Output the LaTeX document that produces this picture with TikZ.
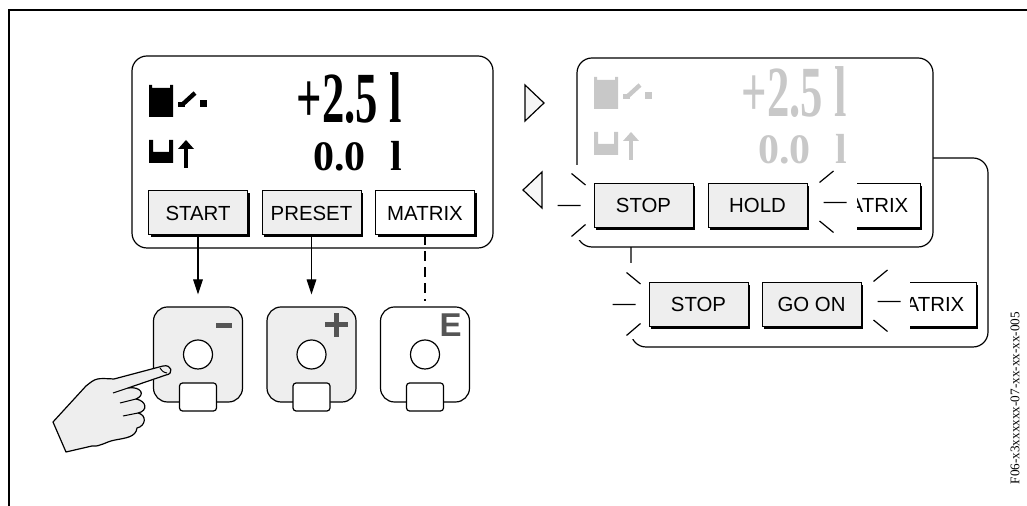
\documentclass[tikz,border=0pt]{standalone}
\usepackage{fontspec}
\setmainfont{Liberation Sans}
\newfontfamily\lcdfont{Liberation Serif}
\usetikzlibrary{positioning,arrows.meta,shadows}

\definecolor{keygray}{HTML}{EEEEEE}
\definecolor{dimgray}{HTML}{C8C8C8}
\definecolor{signgray}{HTML}{555555}

\tikzset{
  display/.style={draw,line width=0.6pt,rounded corners=7.5pt,fill=white,inner sep=0pt},
  softkey/.style={draw,line width=0.5pt,fill=keygray,minimum width=49.5pt,minimum height=22pt,
    inner sep=0pt,font=\fontsize{10.2}{11}\selectfont,
    general shadow={fill=black,shadow xshift=1.1pt,shadow yshift=-1.1pt}},
  opkey/.style={draw,line width=0.6pt,rounded corners=7pt,fill=keygray,
    minimum width=44.5pt,minimum height=47.5pt,inner sep=0pt},
  hole/.style={draw,line width=0.6pt,fill=white,circle,minimum size=14.5pt,inner sep=0pt},
  tab/.style={draw,line width=0.6pt,fill=white,rounded corners=1.5pt,
    minimum width=18.5pt,minimum height=14pt,inner sep=0pt},
  bignum/.style={inner sep=0pt,anchor=base east,font=\lcdfont\bfseries\fontsize{36}{36}\selectfont},
  smallnum/.style={inner sep=0pt,anchor=base east,font=\lcdfont\bfseries\fontsize{21}{21}\selectfont},
  % totalizer symbols, full and empty container
  pics/totalicons/.style={code={
    \fill (0,0) -- (3,0) -- (3,3) -- (21,3) -- (21,0) -- (24,0) -- (24,32) -- (0,32) -- cycle;
    \fill (29,17) rectangle (36,22);
    \draw[line width=2.2pt] (34,19) -- (46,8);
    \fill (51,15) rectangle (58,22);
    \fill (0,55) -- (4,55) -- (4,67) -- (20,67) -- (20,55) -- (24,55) -- (24,78) -- (0,78) -- cycle;
    \fill (35,61) rectangle (39,83);
    \fill (29,64) -- (37,55) -- (45,64) -- cycle;
  }},
  pics/raysleft/.style={code={
    \draw[line width=0.6pt] (-22,-32) -- (-8,-20.5) (-36,0) -- (-13,0) (-22,31) -- (-8,19);
  }},
  pics/raysright/.style={code={
    \draw[line width=0.6pt] (12,-23) -- (26,-34.5) (16,-3) -- (39,-3) (12,15.5) -- (26,27);
  }},
}

\begin{document}
\begin{tikzpicture}[x=0.5pt,y=-0.5pt,on grid,>={Triangle[length=7.5pt,width=4.8pt]}]
\useasboundingbox (0,0) rectangle (1027,506);
\draw[line width=1pt] (8.5,506) -- (8.5,10) -- (1027,10);

%% displays on the right, lower one first
\node[display,minimum width=178.5pt,minimum height=94.5pt] (dispc) at (809.5,252.5) {};
\node[display,minimum width=178pt,minimum height=94.5pt] (dispb) at (755,152.5) {};
\fill[white] (560,165) rectangle (586,240);
\fill[white] (605,263) rectangle (641,339);

%% main display
\node[display,minimum width=180.5pt,minimum height=96pt] (disp) at (312.5,152) {};
\pic[color=black] at (149,85) {totalicons};
\node[bignum] (tot) at (402,123) {\scalebox{0.62}[1]{+2.5 l}};
\node[smallnum] (rest) at (403,171) {0.0\hspace{0.6em}l};

\node[softkey] (start) at (198,213) {START};
\node[softkey,right=56.75pt of start] (preset) {PRESET};
\node[softkey,fill=white,right=56.75pt of preset] (mtx) {MATRIX};

%% operating keys
\node[opkey,below=70.75pt of start] (minus) {};
\node[opkey,below=70.75pt of preset] (plus) {};
\node[opkey,fill=white,below=70.75pt of mtx] (enter) {};
\foreach \k in {minus,plus,enter}{
  \node[hole] (\k hole) at (\k) {};
  \node[tab] (\k tab) at ([yshift=-21.25pt]\k) {};
}
\fill[signgray] (216,323) rectangle (232,328);
\fill[signgray] (325,322.5) rectangle (348,327.5);
\fill[signgray] (334,313) rectangle (339,337);
\node[font=\bfseries\fontsize{16.5}{17}\selectfont,text=signgray,inner sep=0pt] (elabel) at (450.5,325) {E};

\draw[->,line width=0.6pt,shorten >=6pt] (start) -- (minus.north);
\draw[->,line width=0.6pt,shorten >=6pt] (preset) -- (plus.north);
\draw[dashed,line width=0.6pt,dash pattern=on 5pt off 3pt,shorten >=2.5pt] (mtx) -- (enter.north);

% finger on the minus key
\draw[line width=0.6pt,fill=keygray,line join=round]
  (53,422) -- (86,386) .. controls (96,378) .. (114,379) -- (163,366)
  .. controls (172,364) and (174,374) .. (166,375) -- (128,388)
  .. controls (141,386) and (146,395) .. (136,399)
  .. controls (147,401) and (148,411) .. (138,413)
  .. controls (147,415) and (146,426) .. (137,428)
  .. controls (136,437) and (126,438) .. (115,440)
  .. controls (105,442) and (100,447) .. (92,446) -- (66,452) -- cycle;
\draw[line width=0.5pt] (128,388) -- (113,393) (136,399) -- (120,403) (138,413) -- (123,416)
  (160,368) .. controls (163,372) .. (167,373);

%% switching arrows
\draw[line width=0.6pt,fill=keygray!50] (525,85) -- (525,121) -- (544,103) -- cycle;
\draw[line width=0.6pt,fill=keygray!50] (542,172) -- (542,208) -- (523,190) -- cycle;

%% second display, contents dimmed
\pic[color=dimgray] at (594,77) {totalicons};
\node[bignum,text=dimgray] (totb) at (847,117) {\scalebox{0.62}[1]{+2.5 l}};
\node[smallnum,text=dimgray] (restb) at (848,164) {0.0\hspace{0.6em}l};
\node[softkey] (stopb) at (643.5,205.5) {STOP};
\node[softkey,right=57pt of stopb] (hold) {HOLD};
\begin{scope}
  \clip (857,170) rectangle (940,240);
  \node[softkey,fill=white,right=56.5pt of hold] (mtxb) {MATRIX};
\end{scope}
\pic at (stopb.west) {raysleft};
\pic at (hold.east) {raysright};

%% third display
\node[softkey] (stopc) at (698.5,304.5) {STOP};
\node[softkey,right=56.5pt of stopc] (goon) {GO ON};
\begin{scope}
  \clip (910,270) rectangle (995,340);
  \node[softkey,fill=white,right=57.5pt of goon] (mtxc) {MATRIX};
\end{scope}
\pic at (stopc.west) {raysleft};
\pic at (goon.east) {raysright};

\node[rotate=90,inner sep=0pt,font=\lcdfont\fontsize{6.6}{7}\selectfont] (figid) at (1015,398)
  {F06-x3xxxxxx-07-xx-xx-xx-005};
\end{tikzpicture}
\end{document}
